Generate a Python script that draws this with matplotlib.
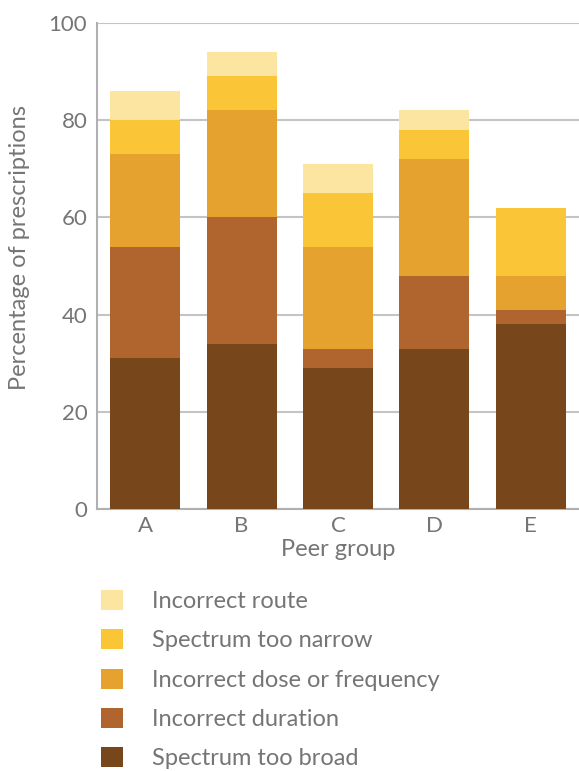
import matplotlib
matplotlib.use("Agg")
import matplotlib.pyplot as plt
from matplotlib.patches import Patch

groups = ["A", "B", "C", "D", "E"]
spectrum_too_broad = [31, 34, 29, 33, 38]
incorrect_duration = [23, 26, 4, 15, 3]
incorrect_dose = [19, 22, 21, 24, 7]
spectrum_too_narrow = [7, 7, 11, 6, 14]
incorrect_route = [6, 5, 6, 4, 0]

series = [
    ("Spectrum too broad", spectrum_too_broad, "#77461B"),
    ("Incorrect duration", incorrect_duration, "#B0652F"),
    ("Incorrect dose or frequency", incorrect_dose, "#E5A22F"),
    ("Spectrum too narrow", spectrum_too_narrow, "#FAC536"),
    ("Incorrect route", incorrect_route, "#FCE5A0"),
]

plt.rcParams['font.family'] = ['Lato', 'DejaVu Sans']
text_color = "#757575"
fs = 16
fs_lab = 17

fig = plt.figure(figsize=(5.79, 7.71), dpi=100)
ax = fig.add_axes([0.1675, 0.3398, 0.8325, 0.6304])

x = list(range(len(groups)))
bottom = [0] * len(groups)
handles = []
for name, vals, color in series:
    ax.bar(x, vals, bottom=bottom, width=0.725, color=color, zorder=3, linewidth=0)
    bottom = [b + v for b, v in zip(bottom, vals)]
    handles.append(Patch(facecolor=color, edgecolor='none', label=name))

ax.set_xlim(-0.5, 4.5)
ax.set_ylim(0, 100)
ax.set_yticks([0, 20, 40, 60, 80, 100])
ax.set_xticks(x)
ax.set_xticklabels(groups)
ax.yaxis.grid(True, color="#c4c4c4", linewidth=1.5, zorder=0)
ax.set_axisbelow(True)
for s in ["top", "right"]:
    ax.spines[s].set_visible(False)
for s in ["left", "bottom"]:
    ax.spines[s].set_color("#b0b0b0")
    ax.spines[s].set_linewidth(1.5)
ax.tick_params(axis='y', length=0, labelsize=fs, colors=text_color, pad=7)
ax.tick_params(axis='x', length=0, labelsize=fs, colors=text_color, pad=5)
ax.set_ylabel("Percentage of prescriptions", fontsize=fs_lab, color=text_color)
ax.yaxis.set_label_coords(-0.14, 0.539)
ax.set_xlabel("Peer group", fontsize=fs_lab, color=text_color, labelpad=2)

leg = fig.legend(handles=handles[::-1], loc="upper left", bbox_to_anchor=(0.158, 0.247),
                 frameon=False, fontsize=fs_lab, handlelength=0.92, handleheight=0.92,
                 labelspacing=0.73, handletextpad=1.25, borderaxespad=0)
for t in leg.get_texts():
    t.set_color(text_color)

fig.savefig("out.png", dpi=100)
